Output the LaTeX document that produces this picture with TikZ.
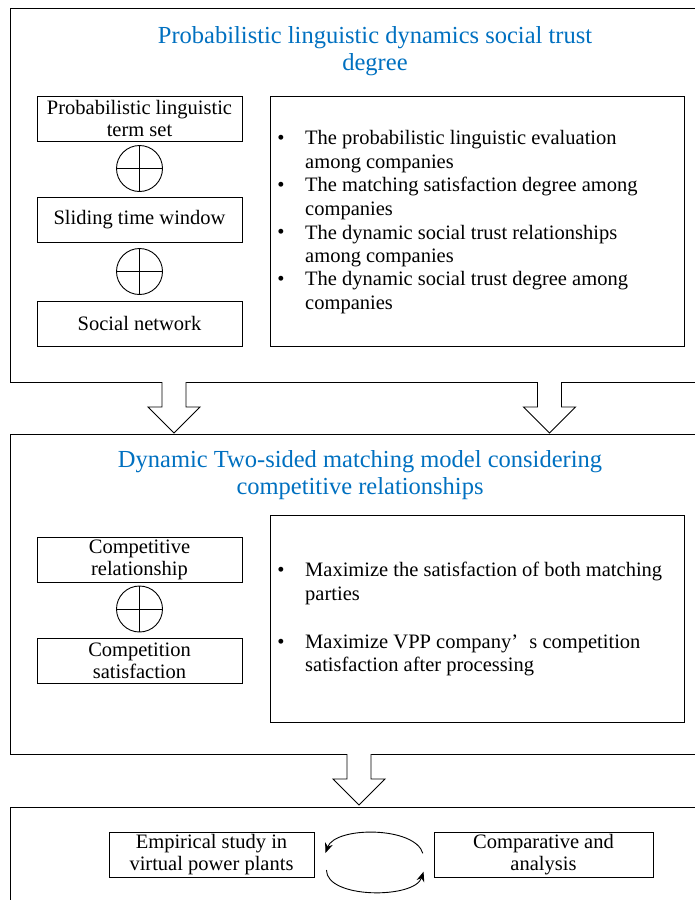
\documentclass[tikz,border=0pt]{standalone}
\usepackage{fontspec}
\setmainfont{Liberation Serif}
\usetikzlibrary{arrows.meta,calc}
\definecolor{titleblue}{RGB}{0,112,192}

\tikzset{
  frame/.style={draw, line width=1pt, anchor=north west, inner sep=0pt},
  stagetitle/.style={text=titleblue, align=center, inner sep=0pt,
    font=\fontsize{24.5}{27}\selectfont},
  termbox/.style={draw, line width=0.9pt, minimum width=205pt, minimum height=45pt,
    inner sep=0pt, align=center, font=\fontsize{20.5}{22}\selectfont},
  oplus/.style={draw, line width=0.9pt, circle, minimum size=46pt, inner sep=0pt,
    path picture={
      \draw[line width=0.9pt] (path picture bounding box.north) -- (path picture bounding box.south)
        (path picture bounding box.west) -- (path picture bounding box.east);}},
  listbox/.style={draw, line width=0.9pt, anchor=north west, inner sep=0pt},
  dot/.style={inner sep=0pt, font=\fontsize{20.5}{22}\selectfont},
  item/.style={anchor=west, inner sep=0pt, align=left,
    font=\fontsize{20.5}{23.4}\selectfont},
  loop/.style={line width=0.9pt, -{Stealth[length=10pt,width=8pt]}},
  pics/downarrow/.style={code={
    \draw[line width=0.9pt, fill=white]
      (-12,0) -- (-12,25) -- (-26,25) -- (0,51) -- (26,25) -- (12,25) -- (12,0);}}
}

\begin{document}
\begin{tikzpicture}[x=1pt,y=-1pt]
\useasboundingbox (0,0) rectangle (695,900);
\clip (0,0) rectangle (695,900);

% ---- stage frames ----
\node[frame, minimum width=730pt, minimum height=374pt] (stage1) at (10,8) {};
\node[frame, minimum width=730pt, minimum height=320pt] (stage2) at (10,434) {};
\node[frame, minimum width=730pt, minimum height=150pt] (stage3) at (10,807) {};

% ---- stage 1 ----
\node[stagetitle] (t1) at (375,51.5) {Probabilistic linguistic dynamics social trust\\degree};

\node[termbox] (plts) at (139.5,118.5) {Probabilistic linguistic\\term set};
\node[oplus] (op1) at (139.5,168.5) {};
\node[termbox] (stw) at (139.5,220) {Sliding time window};
\node[oplus] (op2) at (139.5,271.5) {};
\node[termbox] (sn) at (139.5,323.5) {Social network};

\node[listbox, minimum width=414pt, minimum height=250pt] (list1) at (270,96) {};
\node[dot] (d1) at (281,140) {•};
\node[item] (i1) at (305,151.5) {The probabilistic linguistic evaluation\\among companies};
\node[dot] (d2) at (281,187) {•};
\node[item] (i2) at (305,198.5) {The matching satisfaction degree among\\companies};
\node[dot] (d3) at (281,234) {•};
\node[item] (i3) at (305,246) {The dynamic social trust relationships\\among companies};
\node[dot] (d4) at (281,281) {•};
\node[item] (i4) at (305,292.5) {The dynamic social trust degree among\\companies};

% ---- transitions 1 -> 2 ----
\pic at (174,382) {downarrow};
\pic at (549.5,382) {downarrow};

% ---- stage 2 ----
\node[stagetitle] (t2) at (360,475.3) {Dynamic Two-sided matching model considering\\competitive relationships};

\node[termbox] (cr) at (139.5,559.5) {Competitive\\relationship};
\node[oplus] (op3) at (139.5,609) {};
\node[termbox] (cs) at (139.5,660.5) {Competition\\satisfaction};

\node[listbox, minimum width=414pt, minimum height=207pt] (list2) at (270,515) {};
\node[dot] (d5) at (281,572) {•};
\node[item] (i5) at (305,583.5) {Maximize the satisfaction of both matching\\parties};
\node[dot] (d6) at (281,644) {•};
\node[item] (i6) at (305,655.5) {Maximize VPP company’\hspace{0.55em}s competition\\satisfaction after processing};

% ---- transition 2 -> 3 ----
\pic at (359,754) {downarrow};

% ---- stage 3 ----
\node[termbox] (emp) at (211.5,854.5) {Empirical study in\\virtual power plants};
\node[termbox, minimum width=219pt] (cmp) at (543.5,854.5) {Comparative and\\analysis};

\coordinate (uR) at ($(cmp.west)+(-10.7,-1.2)$);
\coordinate (uL) at ($(emp.east)+(11,-1.5)$);
\coordinate (lL) at ($(emp.east)+(12,15.5)$);
\coordinate (lR) at ($(cmp.west)+(-10,17.2)$);
\draw[loop] (uR) .. controls ($(uR)+(-8,-27)$) and ($(uL)+(10,-27)$) .. (uL);
\draw[loop] (lL) .. controls ($(lL)+(0,29)$) and ($(lR)+(-9,27.3)$) .. (lR);
\end{tikzpicture}
\end{document}
